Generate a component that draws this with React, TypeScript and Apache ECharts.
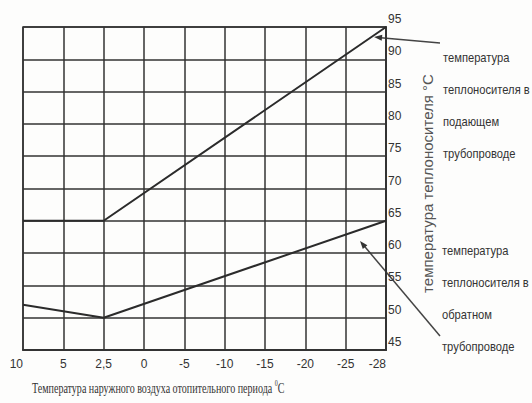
import React, { useEffect, useRef } from "react";
import * as echarts from "echarts";

const outdoorTemps = ["10", "5", "2,5", "0", "-5", "-10", "-15", "-20", "-25", "-28"];
// supply (подающий) — break points only, straight segments between them
const supplyTemps = [65, null, 65, null, null, null, null, null, null, 95];
// return (обратный)
const returnTemps = [52, null, 50, null, null, null, null, null, null, 65];
const yMin = 45;
const yMax = 95;
const yStep = 5;

const supplyNote = ["температура", "теплоносителя в", "подающем", "трубопроводе"];
const returnNote = ["температура", "теплоносителя в", "обратном", "трубопроводе"];
const yTitle = "температура теплоносителя °C";
const xTitle = "Температура наружного воздуха отопительного периода";

const INK = "#333";
const SANS = "'Liberation Sans', Arial, sans-serif";
const SERIF = "'Liberation Serif', 'Times New Roman', serif";

export default function App() {
  const ref = useRef<HTMLDivElement>(null);
  useEffect(() => {
    if (!ref.current) return;
    const chart = echarts.init(ref.current, null, { renderer: "svg" });
    chart.setOption({
      animation: false,
      backgroundColor: "#fdfdfc",
      grid: {
        left: 23,
        top: 27,
        right: 146,
        bottom: 53,
        containLabel: false,
        outerBoundsMode: "none",
        show: true,
        borderColor: INK,
        borderWidth: 1.5,
        backgroundColor: "transparent",
      },
      xAxis: {
        type: "category",
        data: outdoorTemps,
        boundaryGap: false,
        axisLine: { lineStyle: { color: INK, width: 2 } },
        axisTick: { show: false },
        axisLabel: {
          color: "#333",
          fontFamily: SANS,
          fontSize: 12,
          margin: 8,
          alignMinLabel: "right",
          alignMaxLabel: "right",
        },
        splitLine: { show: true, lineStyle: { color: INK, width: 1.5 } },
      },
      yAxis: {
        type: "value",
        position: "right",
        min: yMin,
        max: yMax,
        interval: yStep,
        axisLine: { show: true, lineStyle: { color: INK, width: 2 } },
        axisTick: { show: false },
        axisLabel: {
          color: "#333",
          fontFamily: SANS,
          fontSize: 12,
          margin: 2,
          verticalAlign: "bottom",
          padding: [0, 0, 2, 0],
        },
        splitLine: { show: true, lineStyle: { color: INK, width: 1.5 } },
        name: yTitle,
        nameLocation: "middle",
        nameRotate: 90,
        nameGap: 34,
        nameTextStyle: {
          color: "#555",
          fontFamily: SANS,
          fontSize: 15,
          padding: [0, 0, 0, 10],
        },
      },
      series: [
        {
          name: "подающий",
          type: "line",
          data: supplyTemps,
          connectNulls: true,
          symbol: "none",
          lineStyle: { color: "#2b2b2b", width: 2 },
        },
        {
          name: "обратный",
          type: "line",
          data: returnTemps,
          connectNulls: true,
          symbol: "none",
          lineStyle: { color: "#2b2b2b", width: 2 },
        },
      ],
      graphic: [
        {
          type: "text",
          x: 32,
          y: 379,
          scaleX: 0.67,
          style: {
            text: "{t|" + xTitle + "} {sup|0}{t|C}",
            rich: {
              t: { fontFamily: SERIF, fontSize: 15, fill: "#333" },
              sup: { fontFamily: SERIF, fontSize: 9, fill: "#333", verticalAlign: "top", padding: [0, 0, 10, 0] },
            },
          },
        },
        {
          type: "text",
          x: 443,
          y: 42,
          scaleX: 0.86,
          style: {
            text: supplyNote.join("\n"),
            fontFamily: SANS,
            fontSize: 13,
            lineHeight: 32,
            fill: "#333",
          },
        },
        {
          type: "text",
          x: 442,
          y: 235,
          scaleX: 0.86,
          style: {
            text: returnNote.join("\n"),
            fontFamily: SANS,
            fontSize: 13,
            lineHeight: 32,
            fill: "#333",
          },
        },
        {
          type: "line",
          shape: { x1: 440, y1: 43, x2: 378, y2: 37.4 },
          style: { stroke: "#444", lineWidth: 1.5 },
        },
        {
          type: "polygon",
          shape: { points: [[374, 37], [382.3, 34.7], [381.7, 40.7]] },
          style: { fill: "#333" },
        },
        {
          type: "line",
          shape: { x1: 440, y1: 336, x2: 363, y2: 244.5 },
          style: { stroke: "#444", lineWidth: 1.5 },
        },
        {
          type: "polygon",
          shape: { points: [[360, 241], [367.4, 245.3], [362.8, 249.1]] },
          style: { fill: "#333" },
        },
      ],
    });
    return () => chart.dispose();
  }, []);
  return (
    <div
      ref={ref}
      style={{ position: "absolute", left: 0, top: 0, width: 532, height: 403 }}
    />
  );
}
